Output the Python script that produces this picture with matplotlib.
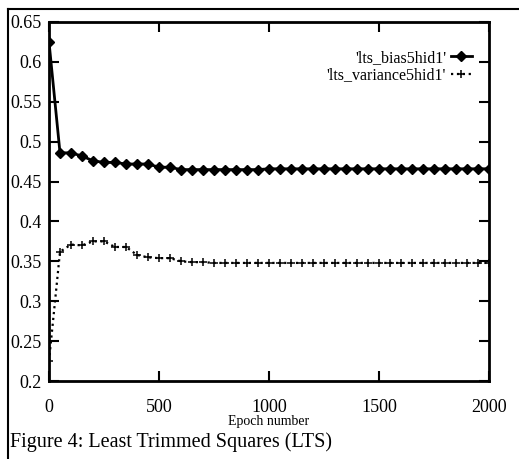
import numpy as np
import matplotlib
matplotlib.use('Agg')
import matplotlib.pyplot as plt
from matplotlib.lines import Line2D

# epochs sampled every 50
epochs = np.arange(0, 2001, 50)

bias = [0.625, 0.486, 0.486, 0.482, 0.476, 0.474, 0.474, 0.472, 0.472, 0.472,
        0.468, 0.468, 0.465, 0.465, 0.465, 0.465, 0.465, 0.465, 0.465, 0.465,
        0.466, 0.466, 0.466, 0.466, 0.466, 0.466, 0.466, 0.466, 0.466, 0.466,
        0.466, 0.466, 0.466, 0.466, 0.466, 0.466, 0.466, 0.466, 0.466, 0.466,
        0.466]

variance = [0.225, 0.362, 0.371, 0.370, 0.375, 0.375, 0.368, 0.368, 0.358, 0.355,
            0.354, 0.354, 0.350, 0.349, 0.349, 0.348, 0.348, 0.348, 0.348, 0.348,
            0.348, 0.348, 0.348, 0.348, 0.348, 0.348, 0.348, 0.348, 0.348, 0.348,
            0.348, 0.348, 0.348, 0.348, 0.348, 0.348, 0.348, 0.348, 0.348, 0.348,
            0.348]

x_ticks = [0, 500, 1000, 1500, 2000]
y_ticks = [0.2, 0.25, 0.3, 0.35, 0.4, 0.45, 0.5, 0.55, 0.6, 0.65]
y_labels = ['0.2', '0.25', '0.3', '0.35', '0.4', '0.45', '0.5', '0.55', '0.6', '0.65']

plt.rcParams['font.family'] = ['Liberation Serif', 'DejaVu Serif']

fig = plt.figure(figsize=(5.19, 4.59), dpi=100)
ax = fig.add_axes([49/519, 1 - 381/459, 440/519, 359/459])

ax.plot(epochs, bias, color='black', lw=2, marker='D', ms=5,
        label="'lts_bias5hid1'")
ax.plot(epochs, variance, color='black', lw=1.6, ls=':', marker='+', ms=6,
        mew=1.1, label="'lts_variance5hid1'")

ax.set_xlim(0, 2000)
ax.set_ylim(0.2, 0.65)
ax.set_xticks(x_ticks)
ax.set_xticklabels([str(t) for t in x_ticks], fontsize=13)
ax.set_yticks(y_ticks)
ax.set_yticklabels(y_labels, fontsize=13)
ax.tick_params(direction='in', length=7, width=1.5, top=True, right=True)
ax.tick_params(axis='x', pad=13)
ax.tick_params(axis='y', pad=5)
for s in ax.spines.values():
    s.set_linewidth(2)

ax.set_xlabel('Epoch number', fontsize=10, labelpad=-1)

leg = ax.legend(loc='upper right', bbox_to_anchor=(0.975, 0.94), frameon=False,
                markerfirst=False, fontsize=11.5, handlelength=1.3,
                handletextpad=0.3, labelspacing=0.1, borderaxespad=0)

# outer frame of the figure box
fig.add_artist(Line2D([8/519, 8/519], [0, 1 - 9/459], color='black', lw=1.5))
fig.add_artist(Line2D([8/519, 1], [1 - 9/459, 1 - 9/459], color='black', lw=1.5))

fig.text(10/519, 1 - 442/459, 'Figure 4: Least Trimmed Squares (LTS)',
         fontsize=14.5, va='center', ha='left')

fig.savefig('out.png', dpi=100)
